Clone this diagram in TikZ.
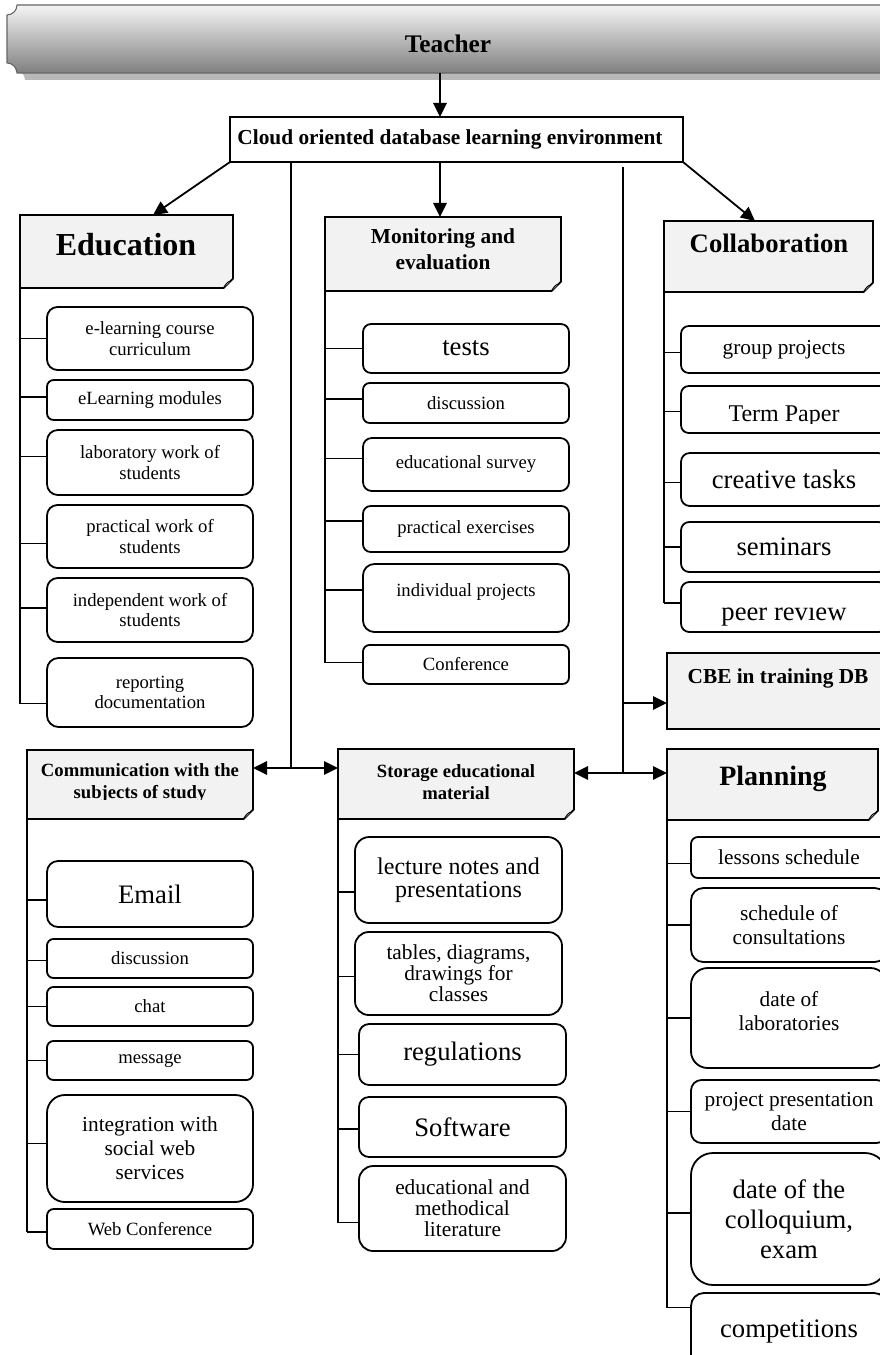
\documentclass[tikz,border=0pt]{standalone}
\usepackage{fontspec}
\setmainfont{Liberation Serif}
\usetikzlibrary{arrows.meta,fit,calc}
\definecolor{hdrgray}{HTML}{F2F2F2}
\definecolor{bshadow}{HTML}{B8B8B8}
\newcommand\kidbox[7]{%
  \pgfmathsetmacro\kr{0.125*(#5-#3)}%
  \pgfmathsetmacro\kw{0.75*(#4-#2)}%
  \pgfmathsetmacro\kh{0.75*(#5-#3)}%
  \pgfmathsetmacro\kx{(#2+#4)/2}%
  \pgfmathsetmacro\ky{(#3+#5)/2}%
  \node[cb, rounded corners=\kr pt, minimum width=\kw pt, minimum height=\kh pt, #6] (#1) at (\kx,\ky) {#7};}
\newcommand\foldhdr[1]{%
  \filldraw[hfill] (#1.north west) -- (#1.north east) -- ([yshift=7pt]#1.south east) -- ([xshift=-7pt]#1.south east) -- (#1.south west) -- cycle;
  \filldraw[fill=black!30, draw=black, line width=0.7pt] ([xshift=-7pt]#1.south east) .. controls ([xshift=-5.5pt,yshift=3pt]#1.south east) and ([xshift=-4pt,yshift=5pt]#1.south east) .. ([xshift=-2pt,yshift=5pt]#1.south east) -- ([yshift=7pt]#1.south east);}
\newcommand\kconn[3]{%
  \coordinate (#2c) at ($(#2.west)+(0,#3)$);
  \draw[ln] (#1.south west |- #2c) -- (#2c);}
\newcommand\ktrunk[2]{\draw[ln] (#1.south west) -- (#1.south west |- #2c);}
\begin{document}
\begin{tikzpicture}[x=0.75pt,y=-0.75pt,
  ln/.style={line width=1.35pt},
  arr/.style={line width=1.35pt, -{Triangle[length=10.5pt,width=10pt]}},
  darr/.style={line width=1.35pt, {Triangle[length=10.5pt,width=10pt]}-{Triangle[length=10.5pt,width=10pt]}},
  cb/.style={draw, line width=1.35pt, fill=white, inner sep=0pt, outer sep=0pt},
  hb/.style={inner sep=0pt, outer sep=0pt},
  hfill/.style={fill=hdrgray, draw=black, line width=1.35pt, line join=miter},
  f14/.style={font=\fontsize{14}{15.5}\selectfont, align=center},
  f16/.style={font=\fontsize{16}{17.5}\selectfont, align=center},
  f16n/.style={font=\fontsize{16}{15.75}\selectfont, align=center},
  f16w/.style={font=\fontsize{16}{18}\selectfont, align=center},
  f18/.style={font=\fontsize{18}{17.5}\selectfont, align=center},
  f20/.style={font=\fontsize{20}{22.5}\selectfont, align=center},
  b14/.style={font=\fontsize{14}{16}\selectfont\bfseries, align=center},
  b14s/.style={font=\fontsize{14}{16.5}\selectfont\bfseries, align=center},
  b16/.style={font=\fontsize{16}{19.5}\selectfont\bfseries, align=center},
  b19/.style={font=\fontsize{19}{22}\selectfont\bfseries, align=center},
  b20/.style={font=\fontsize{20}{22}\selectfont\bfseries, align=center},
  b21/.style={font=\fontsize{21}{24}\selectfont\bfseries, align=center},
  b24/.style={font=\fontsize{24}{28}\selectfont\bfseries, align=center}]
\useasboundingbox (0,0) rectangle (880,1355);
\fill[white] (0,0) rectangle (880,1355);
\clip (0,0) rectangle (880,1355);

% ---- Teacher banner
\fill[bshadow] (25,12) -- (893,12) .. controls (893,17.5) and (897.5,22) .. (903,22) -- (903,70) .. controls (897.5,70) and (893,74.5) .. (893,80) -- (25,80) .. controls (25,74.5) and (20.5,70) .. (15,70) -- (15,22) .. controls (20.5,22) and (25,17.5) .. (25,12) -- cycle;
\shade[top color=black!4, middle color=black!22, bottom color=black!50] (17,5) -- (885,5) .. controls (885,10.5) and (889.5,15) .. (895,15) -- (895,63) .. controls (889.5,63) and (885,67.5) .. (885,73) -- (17,73) .. controls (17,67.5) and (12.5,63) .. (7,63) -- (7,15) .. controls (12.5,15) and (17,10.5) .. (17,5) -- cycle;
\draw[black!60, line width=0.8pt] (17,5) -- (885,5) .. controls (885,10.5) and (889.5,15) .. (895,15) -- (895,63) .. controls (889.5,63) and (885,67.5) .. (885,73) -- (17,73) .. controls (17,67.5) and (12.5,63) .. (7,63) -- (7,15) .. controls (12.5,15) and (17,10.5) .. (17,5) -- cycle;
\node[hb, fit={(7,5)(895,73)}] (teach) {};
\node[b19] (teacht) at (448,44) {Teacher};

% ---- Cloud box
\node[cb, fit={(230,117)(683,162)}] (cloud) {};
\node[b16] (cloudt) at (450,139) {Cloud oriented database learning environment};

% ---- header boxes
\node[hb, fit={(20,215)(233,288)}] (edu) {}; \foldhdr{edu}
\node[b24] (edut) at (126,245) {Education};
\node[hb, fit={(325,217)(561,291)}] (mon) {}; \foldhdr{mon}
\node[b16] (mont) at (443,249) {Monitoring and\\evaluation};
\node[hb, fit={(664,221)(873,292)}] (col) {}; \foldhdr{col}
\node[b20] (colt) at (769,243) {Collaboration};
\node[hb, fit={(667,653)(892,729)}] (cbe) {}; \foldhdr{cbe}
\node[b16] (cbet) at (778,678) {CBE in training DB};
\node[hb, fit={(27,750)(253,819)}] (com) {}; \foldhdr{com}
\begin{scope}
  \clip (27,750) rectangle (253,799);
  \node[b14] (comt) at (140,783) {Communication with the\\subjects of study};
\end{scope}
\node[hb, fit={(338,749)(574,819)}] (sto) {}; \foldhdr{sto}
\node[b14s] (stot) at (456,782) {Storage educational\\material};
\node[hb, fit={(667,749)(878,820)}] (plan) {}; \foldhdr{plan}
\node[b21] (plant) at (773,779) {Planning};

% ---- main connectors
\coordinate (ax) at (440,0);
\draw[arr] (teach.south -| ax) -- (cloud.north -| ax);
\draw[arr] (cloud.south -| ax) -- (mon.north -| ax);
\coordinate (eduA) at (153,0);
\draw[arr] (cloud.south west) -- (edu.north -| eduA);
\coordinate (colA) at (755,0);
\draw[arr] (cloud.south east) -- (col.north -| colA);
\coordinate (lbot) at (291,768);
\draw[ln] (cloud.south -| lbot) -- (lbot);
\draw[darr] (com.east |- lbot) -- (sto.west |- lbot);
\coordinate (rtop) at (623,167);
\coordinate (rbot) at (623,773);
\draw[ln] (rtop) -- (rbot);
\draw[darr] (sto.east |- rbot) -- (plan.west |- rbot);
\coordinate (cbeA) at (623,703);
\draw[arr] (cbeA) -- (cbe.west |- cbeA);

% ---- Education
\kidbox{e1}{47}{307}{253}{370}{f14}{e-learning course\\curriculum}
\kidbox{e2}{47}{380}{253}{420}{f14}{eLearning modules}
\kidbox{e3}{47}{430}{253}{495}{f14}{laboratory work of\\students}
\kidbox{e4}{47}{505}{253}{568}{f14}{practical work of\\students}
\kidbox{e5}{47}{578}{253}{642}{f14}{independent work of\\students}
\kidbox{e6}{47}{658}{253}{727}{f14}{reporting\\documentation}
\kconn{edu}{e1}{0}\kconn{edu}{e2}{-3}\kconn{edu}{e3}{-6}
\kconn{edu}{e4}{7}\kconn{edu}{e5}{-2}\kconn{edu}{e6}{11}
\ktrunk{edu}{e6}

% ---- Monitoring
\kidbox{m1}{363}{324}{569}{373}{f20}{tests}
\kidbox{m2}{363}{383}{569}{423}{f14}{discussion}
\kidbox{m3}{363}{438}{569}{491}{f14}{educational survey}
\kidbox{m4}{363}{506}{569}{552}{f14}{practical exercises}
\kidbox{m5}{363}{564}{569}{632}{f14}{}
\node[f14] (m5t) at (466,592) {individual projects};
\kidbox{m6}{363}{645}{569}{684}{f14}{Conference}
\kconn{mon}{m1}{0}\kconn{mon}{m2}{-4}\kconn{mon}{m3}{-6}
\kconn{mon}{m4}{-8}\kconn{mon}{m5}{-8}\kconn{mon}{m6}{-2}
\ktrunk{mon}{m6}

% ---- Collaboration
\kidbox{c1}{681}{326}{887}{373}{f16}{group projects}
\kidbox{c2}{681}{386}{887}{433}{f18}{}
\begin{scope}
  \clip (681,386) rectangle (887,423);
  \node[f18, anchor=base] (c2t) at (784,421) {Term Paper};
\end{scope}
\kidbox{c3}{681}{453}{887}{506}{f20}{creative tasks}
\kidbox{c4}{681}{522}{887}{572}{f20}{seminars}
\kidbox{c5}{681}{582}{887}{632}{f20}{}
\begin{scope}
  \clip (681,606) rectangle (887,632);
  \node[f20, anchor=base] (c5t) at (784,620) {peer review};
\end{scope}
\kconn{col}{c1}{3}\kconn{col}{c2}{2}\kconn{col}{c3}{3}
\kconn{col}{c4}{0}\kconn{col}{c5}{-4}
\ktrunk{col}{c5}

% ---- Communication
\kidbox{k1}{47}{861}{253}{927}{f20}{Email}
\kidbox{k2}{47}{939}{253}{978}{f14}{discussion}
\kidbox{k3}{47}{987}{253}{1026}{f14}{chat}
\kidbox{k4}{47}{1041}{253}{1080}{f14}{message}
\kidbox{k5}{47}{1095}{253}{1202}{f16w}{integration with\\social web\\services}
\kidbox{k6}{47}{1209}{253}{1249}{f14}{Web Conference}
\kconn{com}{k1}{6}\kconn{com}{k2}{2}\kconn{com}{k3}{0}
\kconn{com}{k4}{0}\kconn{com}{k5}{-5}\kconn{com}{k6}{3}
\ktrunk{com}{k6}

% ---- Storage
\kidbox{s1}{355}{837}{562}{923}{f18}{lecture notes and\\presentations}
\kidbox{s2}{355}{932}{562}{1015}{f16n}{tables, diagrams,\\drawings for\\classes}
\kidbox{s3}{359}{1024}{566}{1085}{f20}{regulations}
\kidbox{s4}{359}{1097}{566}{1157}{f20}{Software}
\kidbox{s5}{359}{1166}{566}{1251}{f16n}{educational and\\methodical\\literature}
\kconn{sto}{s1}{12}\kconn{sto}{s2}{3}\kconn{sto}{s3}{0}
\kconn{sto}{s4}{2}\kconn{sto}{s5}{14}
\ktrunk{sto}{s5}

% ---- Planning
\kidbox{p1}{691}{837}{887}{878}{f16}{lessons schedule}
\kidbox{p2}{691}{888}{887}{962}{f16}{schedule of\\consultations}
\kidbox{p3}{691}{968}{887}{1068}{f16}{}
\node[f16] (p3t) at (789,1011) {date of\\laboratories};
\kidbox{p4}{691}{1080}{887}{1143}{f16}{project presentation\\date}
\kidbox{p5}{691}{1153}{887}{1285}{f20}{date of the\\colloquium,\\exam}
\kidbox{p6}{691}{1293}{887}{1370}{f20}{competitions}
\kconn{plan}{p1}{6}\kconn{plan}{p2}{0}\kconn{plan}{p3}{0}
\kconn{plan}{p4}{0}\kconn{plan}{p5}{-6}\kconn{plan}{p6}{-24}
\ktrunk{plan}{p6}
\end{tikzpicture}
\end{document}
